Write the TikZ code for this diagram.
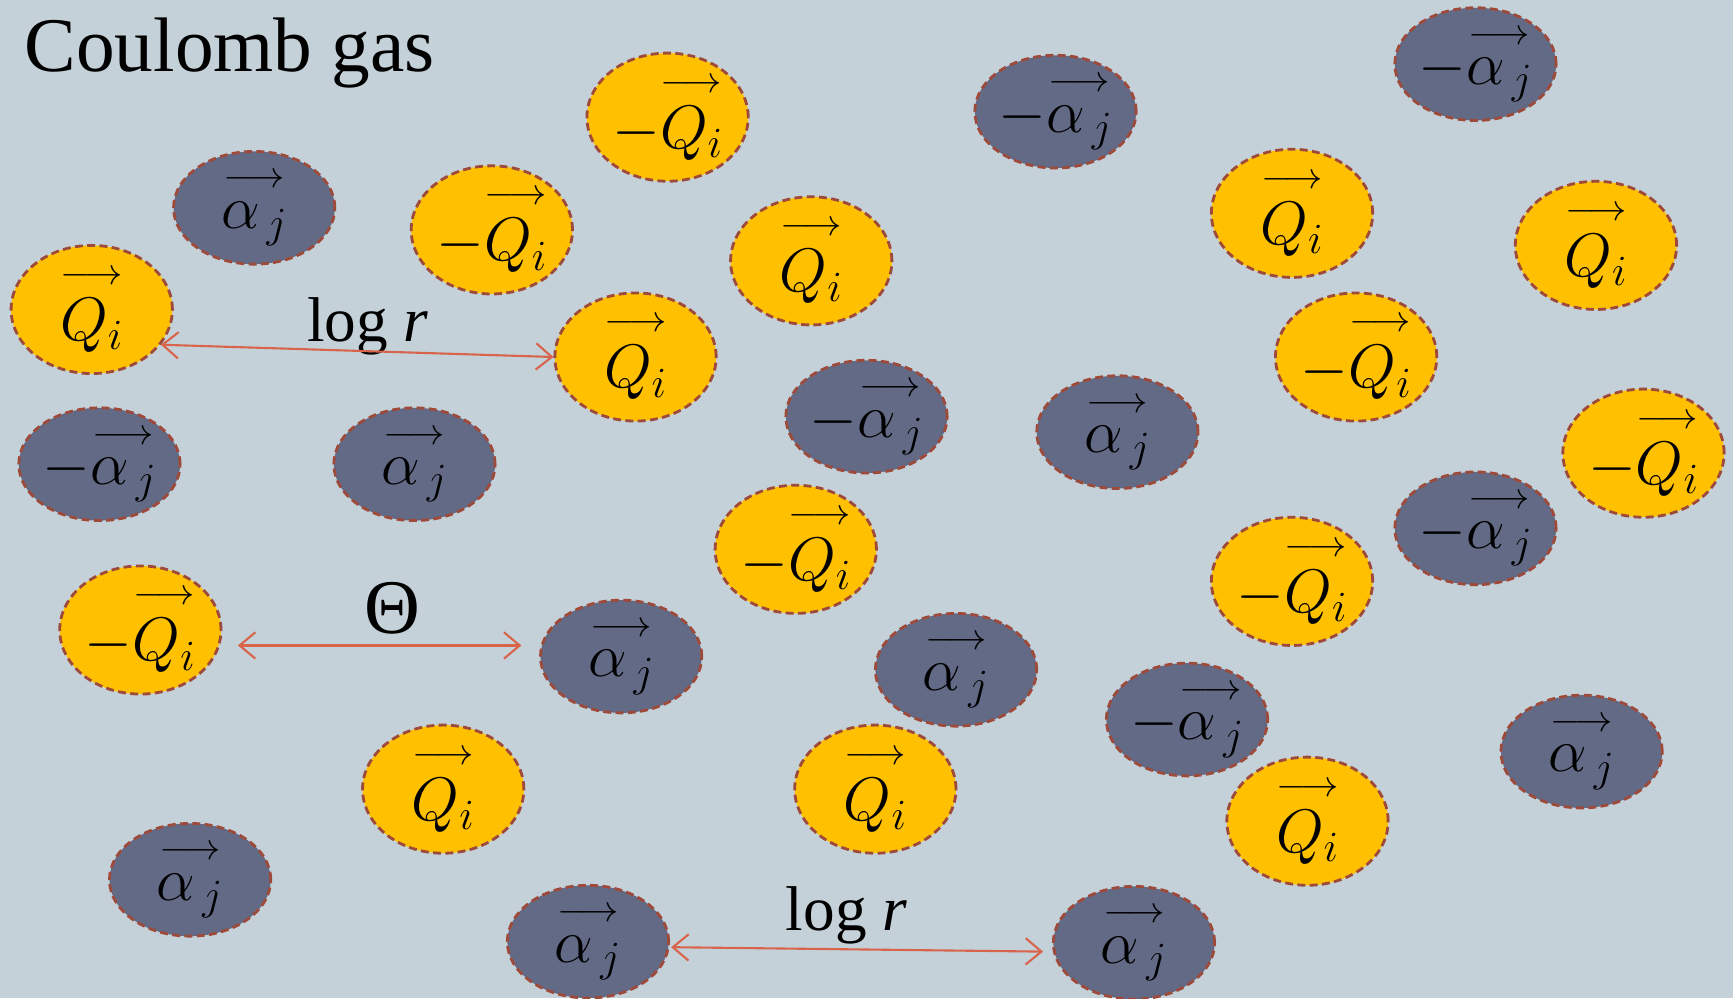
\RequirePackage{fix-cm}
\documentclass[tikz,border=0pt]{standalone}
\usepackage{amsmath}
\usepackage{fontspec}
\setmainfont{Liberation Serif}
\usepackage{xcolor}
\usepackage{tikz}
\usetikzlibrary{arrows.meta,shapes.geometric,calc}
\definecolor{backdrop}{HTML}{C5D1D8}
\definecolor{chargeQ}{HTML}{FFC000}
\definecolor{chargeA}{HTML}{626A86}
\definecolor{rim}{HTML}{9E4A3A}
\definecolor{link}{HTML}{D8644C}
\newcommand{\vecover}[1]{\overset{\raisebox{3pt}{\scalebox{1.25}[1.2]{$\scriptscriptstyle\longrightarrow$}}}{#1}}
\newcommand{\Qv}{\vecover{Q_i}}
\newcommand{\Av}{\vecover{\alpha_{\,j}}}

\begin{document}
\begin{tikzpicture}[x=0.022104cm, y=-0.022104cm, particle/.style={ellipse,draw=rim,line width=1.6pt,dash pattern=on 4.5pt off 2.5pt,inner sep=0pt,minimum width=3.227cm,font=\fontsize{35}{40}\selectfont}, qcharge/.style={particle,fill=chargeQ,minimum height=2.564cm}, acharge/.style={particle,fill=chargeA,minimum height=2.255cm}, lbl/.style={inner sep=0pt,font=\fontsize{36}{40}\selectfont}, conn/.style={draw=link,line width=1.2pt,{Straight Barb[length=9pt,width=15pt]}-{Straight Barb[length=9pt,width=15pt]}}]
\useasboundingbox (0,0) rectangle (1568,903);
\fill[backdrop] (0,0) rectangle (1568,903);
\node[anchor=base west,inner sep=0pt,font=\fontsize{44}{50}\selectfont] (title) at (22,65) {Coulomb gas};
\node[qcharge] (q1) at (604,106) {$-\Qv$};
\node[qcharge] (q2) at (445,208) {$-\Qv$};
\node[qcharge] (q3) at (83,280) {$\Qv$};
\node[qcharge] (q4) at (575,323) {$\Qv$};
\node[qcharge] (q5) at (734,236) {$\Qv$};
\node[qcharge] (q6) at (1169,193) {$\Qv$};
\node[qcharge] (q7) at (1444,222) {$\Qv$};
\node[qcharge] (q8) at (1227,323) {$-\Qv$};
\node[qcharge] (q9) at (1487,410) {$-\Qv$};
\node[qcharge] (q10) at (720,497) {$-\Qv$};
\node[qcharge] (q11) at (1169,526) {$-\Qv$};
\node[qcharge] (q12) at (127,570) {$-\Qv$};
\node[qcharge] (q13) at (401,714) {$\Qv$};
\node[qcharge] (q14) at (792,714) {$\Qv$};
\node[qcharge] (q15) at (1183,743) {$\Qv$};
\node[acharge] (a1) at (955,101) {$-\Av$};
\node[acharge] (a2) at (1335,58) {$-\Av$};
\node[acharge] (a3) at (230,188) {$\Av$};
\node[acharge] (a4) at (90,420) {$-\Av$};
\node[acharge] (a5) at (375,420) {$\Av$};
\node[acharge] (a6) at (784,377) {$-\Av$};
\node[acharge] (a7) at (1011,391) {$\Av$};
\node[acharge] (a8) at (1335,478) {$-\Av$};
\node[acharge] (a9) at (562,594) {$\Av$};
\node[acharge] (a10) at (865,606) {$\Av$};
\node[acharge] (a11) at (1074,651) {$-\Av$};
\node[acharge] (a12) at (1431,680) {$\Av$};
\node[acharge] (a13) at (172,796) {$\Av$};
\node[acharge] (a14) at (532,852) {$\Av$};
\node[acharge] (a15) at (1026,853) {$\Av$};
\node[lbl] (dist1) at (333,295) {log \textit{r}};
\node[lbl,font=\fontsize{44}{48}\selectfont] (angle) at (355,550) {Θ};
\node[lbl] (dist2) at (766,828) {log \textit{r}};
\draw[conn] (q3.-27) -- (q4.west);
\draw[conn] ($(q12.east)+(14,14)$) -- ($(a9.west)+(-16,-10)$);
\draw[conn] ($(a14.east)+(1,5)$) -- ($(a15.west)+(-8,8)$);
\end{tikzpicture}
\end{document}
